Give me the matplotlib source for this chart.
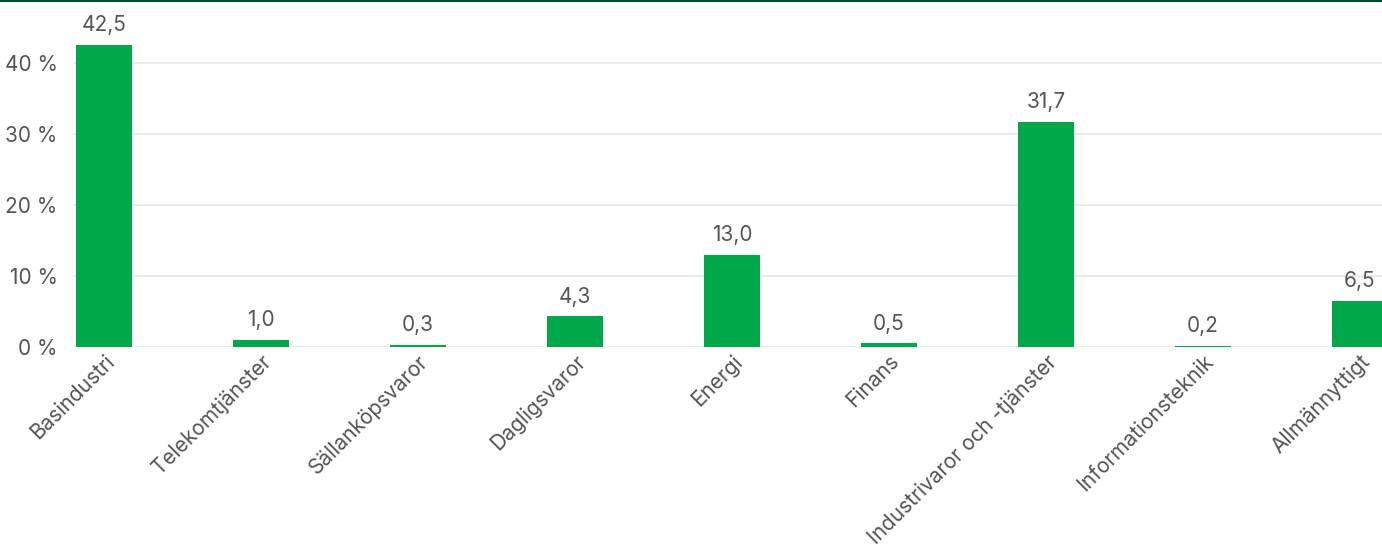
import matplotlib
matplotlib.use("Agg")
import matplotlib.pyplot as plt
from matplotlib.lines import Line2D

# Sektorfördelning (%)
categories = ["Basindustri", "Telekomtjänster", "Sällanköpsvaror", "Dagligsvaror",
              "Energi", "Finans", "Industrivaror och -tjänster",
              "Informationsteknik", "Allmännyttigt"]
values = [42.5, 1.0, 0.3, 4.3, 13.0, 0.5, 31.7, 0.2, 6.5]
y_ticks = [0, 10, 20, 30, 40]

BAR_COLOR = "#00A84A"
TEXT_COLOR = "#555555"
GRID_COLOR = "#E8E8E8"
TOP_LINE = "#004B2A"
FS = 15

plt.rcParams["font.family"] = ["Inter", "DejaVu Sans"]

W, H = 1382, 545
fig = plt.figure(figsize=(W / 100, H / 100), dpi=100)
ax = fig.add_axes([73 / W, 198 / H, (W - 73) / W, 341 / H])

x = range(len(categories))
ax.bar(x, values, width=0.36, color=BAR_COLOR, zorder=3)
for i, v in zip(x, values):
    ax.annotate(f"{v:.1f}".replace(".", ","), (i, v), xytext=(0, 7),
                textcoords="offset points", ha="center", va="bottom",
                fontsize=FS, color=TEXT_COLOR)

ax.set_xlim(-0.197, 8.14)
ax.set_ylim(0, 48)
ax.set_yticks(y_ticks)
ax.set_yticklabels([f"{t} %" for t in y_ticks], fontsize=FS, color=TEXT_COLOR)
ax.set_xticks(list(x))
ax.set_xticklabels(categories, rotation=45, ha="right", rotation_mode="anchor",
                   fontsize=FS, color=TEXT_COLOR)
ax.tick_params(axis="both", length=0)
ax.tick_params(axis="y", pad=11)
ax.tick_params(axis="x", pad=3)
ax.grid(axis="y", color=GRID_COLOR, linewidth=1.2, zorder=0)
for s in ax.spines.values():
    s.set_visible(False)

fig.add_artist(Line2D([0, 1], [1 - 1 / H, 1 - 1 / H], color=TOP_LINE,
                      linewidth=1.5, transform=fig.transFigure))

fig.savefig("out.png", dpi=100)
